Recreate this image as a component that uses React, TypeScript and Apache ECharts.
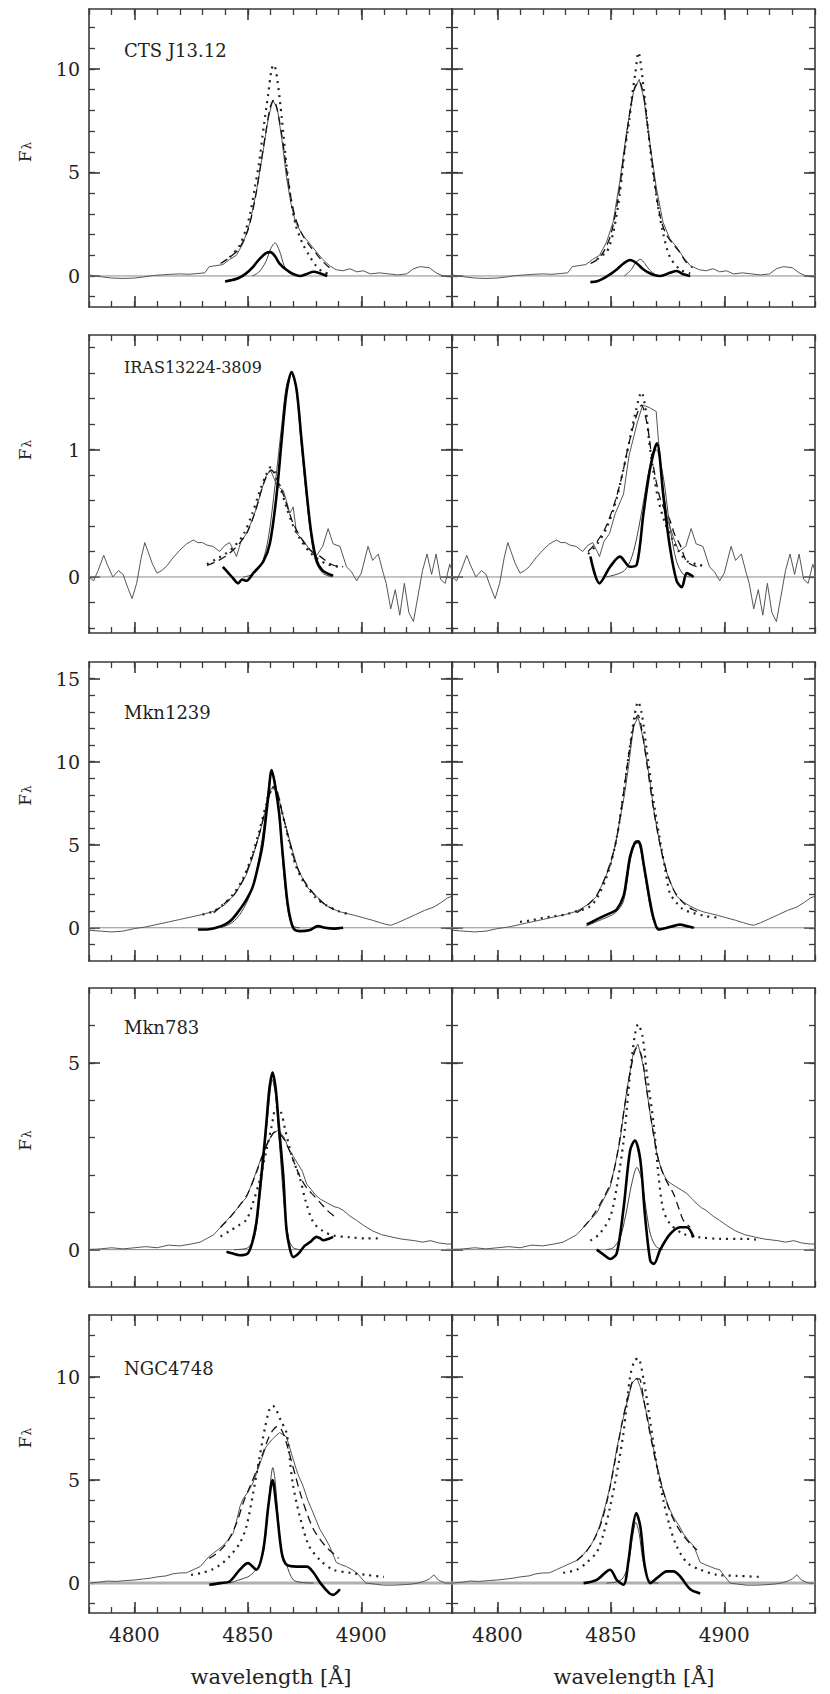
import React, { useEffect, useRef } from "react";
import * as echarts from "echarts";

// ---------------- axes / layout constants ----------------
const X_MIN = 4780;
const X_MAX = 4940;
const X_MAJOR = [4800, 4850, 4900];
const X_LABELS = [4800, 4850, 4900];

const Y_RANGES: number[][] = [[-1.5, 12.9], [-0.44, 1.9], [-2, 16], [-1, 7], [-1.45, 13]];
const Y_MAJOR: number[][] = [[0, 5, 10], [0, 1], [0, 5, 10, 15], [0, 5], [0, 5, 10]];
const Y_MINOR: number[][] = [
  [-1, 0, 1, 2, 3, 4, 5, 6, 7, 8, 9, 10, 11, 12],
  [-0.4, -0.2, 0, 0.2, 0.4, 0.6, 0.8, 1, 1.2, 1.4, 1.6, 1.8],
  [-1, 0, 1, 2, 3, 4, 5, 6, 7, 8, 9, 10, 11, 12, 13, 14, 15],
  [0, 1, 2, 3, 4, 5, 6],
  [-1, 0, 1, 2, 3, 4, 5, 6, 7, 8, 9, 10, 11, 12],
];
const OBJECTS = ["CTS J13.12", "IRAS13224-3809", "Mkn1239", "Mkn783", "NGC4748"];
const X_TITLE = "wavelength [Å]";
const Y_TITLE = "{f|F}{l|λ}";

// ---------------- data: row 1 (CTS J13.12) ----------------
const obs1WingL = [[4780,0.05],[4783,0.0],[4786,-0.05],[4790,-0.1],[4795,-0.12],[4800,-0.1],[4804,-0.05],[4808,0.02],[4812,0.05],[4816,0.08],[4820,0.1],[4824,0.08],[4828,0.12],[4831,0.15],[4833,0.45],[4836,0.5],[4839,0.55],[4842,0.8],[4845,1.0]];
const obs1CoreL = [[4848,1.6],[4851,2.6],[4854,4.2],[4857,6.2],[4859,7.6],[4861,8.5],[4863,8.1],[4865,6.6],[4867,4.8],[4869,3.5],[4871,2.6],[4874,2.0],[4877,1.6],[4880,1.2],[4883,0.8],[4886,0.5]];
const obs1CoreR = [[4848,1.6],[4851,2.6],[4854,4.6],[4857,7.0],[4860,8.9],[4862.5,9.5],[4864.5,8.6],[4867,6.6],[4870,4.3],[4873,2.6],[4876,1.8],[4879,1.4],[4882,0.9],[4885,0.5]];
const obs1WingR = [[4889,0.3],[4892,0.25],[4895,0.35],[4898,0.2],[4901,0.25],[4904,0.1],[4908,0.15],[4912,0.1],[4916,0.05],[4920,0.1],[4923,0.35],[4926,0.45],[4930,0.4],[4933,0.15],[4936,0.0],[4940,-0.05]];
const dash1L = [[4838,0.6],[4842,0.9],[4846,1.3],[4850,2.2],[4853,3.6],[4856,5.6],[4858,7.0],[4860,8.2],[4861.5,8.5],[4863,8.0],[4865,6.8],[4867,5.2],[4869,3.8],[4871,2.8],[4874,2.0],[4877,1.5],[4880,1.1],[4883,0.7],[4886,0.4]];
const dot1L = [[4842,0.9],[4846,1.4],[4849,2.2],[4851,3.0],[4853,4.2],[4855,5.5],[4857,7.2],[4859,8.8],[4860.5,10.0],[4861.5,10.2],[4863,9.5],[4865,7.6],[4867,5.4],[4869,3.7],[4871,2.5],[4874,1.6],[4877,1.0],[4880,0.5],[4883,0.2],[4886,0.1]];
const thick1L = [[4840,-0.27],[4843,-0.2],[4846,-0.1],[4849,0.1],[4852,0.4],[4855,0.8],[4858,1.1],[4860,1.15],[4862,0.95],[4864,0.6],[4867,0.3],[4870,0.1],[4873,0.0],[4876,0.1],[4879,0.2],[4882,0.12],[4885,0.0]];
const thin1L = [[4852,0.0],[4855,0.2],[4858,0.7],[4860,1.3],[4862,1.6],[4864,1.2],[4866,0.5],[4868,0.15],[4871,0.0]];
const dash1R = [[4841,0.6],[4844,0.8],[4847,1.2],[4850,2.0],[4853,3.6],[4856,6.0],[4858.5,8.0],[4860.5,9.1],[4862.5,9.4],[4864.5,8.7],[4866.5,7.0],[4869,4.8],[4871.5,3.0],[4874,2.1],[4877,1.6],[4880,1.2],[4883,0.7],[4886,0.4]];
const dot1R = [[4844,0.8],[4846,1.0],[4848,1.1],[4851,2.06],[4854,4.0],[4856,6.0],[4858,7.4],[4859.5,8.8],[4860.8,9.8],[4862.2,10.8],[4863.5,10.0],[4865,8.5],[4867.4,6.1],[4870.3,3.7],[4873,2.1],[4876,0.93],[4880.6,0.3],[4885,0.13]];
const thick1R = [[4841,-0.3],[4844,-0.25],[4847,-0.1],[4850,0.1],[4853,0.35],[4855.6,0.6],[4858.5,0.77],[4861.5,0.6],[4864,0.35],[4866,0.2],[4869,0.05],[4871.8,0.0],[4876,0.15],[4879,0.24],[4882,0.08],[4885,0.0]];
const thin1R = [[4856,0.0],[4859,0.3],[4861,0.65],[4863,0.8],[4865,0.6],[4867,0.3],[4870,0.05],[4873,0.0]];

// ---------------- data: row 2 (IRAS13224-3809) ----------------
const obs2WingL = [[4780,0.0],[4782,-0.03],[4784,0.05],[4786.5,0.17],[4788,0.1],[4790.5,0.0],[4793,0.05],[4795,0.02],[4797,-0.08],[4799,-0.17],[4801,-0.05],[4803,0.15],[4804.6,0.27],[4806,0.2],[4808,0.1],[4810,0.03],[4812,0.05],[4814,0.08],[4817,0.15],[4820,0.21],[4823,0.26],[4826,0.29],[4828,0.27],[4830,0.27],[4832,0.25],[4834.7,0.24],[4837.6,0.2],[4840,0.25],[4842,0.27],[4844,0.2],[4845,0.16],[4847,0.28]];
const obs2CoreL = [[4849.4,0.34],[4852,0.45],[4854,0.55],[4856,0.68],[4858,0.79],[4860,0.84],[4862.6,0.73],[4864,0.7],[4865.6,0.68],[4867,0.6],[4868.5,0.5],[4870,0.55],[4871.5,0.34],[4874.4,0.29],[4877.4,0.21],[4880,0.16]];
const obs2CoreR = [[4849.4,0.34],[4852,0.5],[4855.6,0.65],[4858,0.95],[4861.5,1.2],[4864,1.35],[4867,1.33],[4870,1.3],[4871,1.07],[4873,0.7],[4875,0.45],[4877.6,0.31],[4880,0.2]];
const obs2WingR = [[4883,0.24],[4885.4,0.38],[4887.6,0.26],[4890.6,0.24],[4893.5,0.08],[4895.7,0.04],[4898,-0.03],[4900,0.03],[4903,0.24],[4905,0.13],[4907.5,0.18],[4909.7,0.03],[4911,-0.05],[4913,-0.25],[4915,-0.1],[4917,-0.3],[4919,-0.05],[4921,-0.28],[4923,-0.35],[4925,-0.15],[4927,0.05],[4929,0.18],[4931,0.02],[4933,0.18],[4935,-0.02],[4937,-0.05],[4939,0.1],[4940,0.05]];
const dash2L = [[4832,0.09],[4836,0.12],[4840,0.16],[4844,0.22],[4847,0.28],[4850,0.36],[4853,0.5],[4856,0.68],[4858,0.78],[4860.4,0.84],[4862.5,0.78],[4865.6,0.65],[4868,0.52],[4870,0.42],[4873,0.32],[4876,0.24],[4879,0.19],[4882,0.16],[4885,0.12],[4888,0.09],[4892,0.08]];
const dot2L = [[4832,0.1],[4836,0.14],[4840,0.18],[4844,0.24],[4848,0.33],[4852,0.5],[4855,0.66],[4858,0.8],[4860,0.86],[4862,0.82],[4864,0.72],[4867,0.55],[4870,0.4],[4873,0.3],[4877,0.2],[4881,0.14],[4885,0.1],[4890,0.08]];
const thick2L = [[4839,0.08],[4841.5,0.03],[4843.5,-0.01],[4845.7,-0.05],[4847.5,-0.02],[4849.4,-0.03],[4852.4,0.03],[4856.8,0.12],[4859.7,0.26],[4862.6,0.63],[4864.9,1.07],[4867,1.44],[4869.3,1.61],[4871.5,1.47],[4873.7,1.07],[4876,0.65],[4878,0.34],[4880.3,0.13],[4883,0.05],[4887.6,0.01]];
const thin2L = [[4848,0.0],[4852,0.02],[4856,0.1],[4859,0.3],[4862,0.72],[4865,1.2],[4867,1.5],[4869.3,1.6],[4871.5,1.45],[4873.5,1.05],[4876,0.6],[4878,0.3],[4880,0.12],[4883,0.03],[4887,0.0]];
const dash2R = [[4840,0.2],[4844,0.28],[4848,0.4],[4852,0.6],[4855,0.8],[4858,1.05],[4861,1.25],[4863.5,1.35],[4866,1.2],[4868,0.95],[4870,0.75],[4872,0.6],[4874,0.52],[4876,0.45],[4878,0.34],[4880.6,0.25],[4883.5,0.12],[4888,0.08]];
const dot2R = [[4840,0.18],[4844,0.26],[4848,0.38],[4852,0.58],[4855,0.8],[4858,1.05],[4861,1.3],[4863.5,1.45],[4865.5,1.3],[4867,1.05],[4869,0.8],[4871,0.6],[4874,0.42],[4877,0.3],[4880,0.2],[4884,0.12],[4888,0.1],[4892,0.08]];
const thick2R = [[4841,0.16],[4845,-0.05],[4849.7,0.08],[4854,0.16],[4858.5,0.08],[4861.5,0.1],[4864.4,0.5],[4867.4,0.86],[4870.3,1.05],[4873.2,0.63],[4876,0.24],[4879,-0.03],[4881.3,-0.08],[4883.5,0.03],[4886.5,0.0]];
const thin2R = [[4848,0.0],[4856,0.05],[4860,0.2],[4864,0.55],[4867,0.85],[4870,1.0],[4873,0.8],[4876,0.4],[4879,0.12],[4882,0.02],[4885,0.0]];

// ---------------- data: row 3 (Mkn1239) ----------------
const obs3WingL = [[4780,-0.15],[4785,-0.2],[4790,-0.25],[4795,-0.2],[4800,-0.05],[4805,0.05],[4810,0.2],[4815,0.35],[4820,0.5],[4825,0.65],[4830,0.8],[4835,1.0],[4840,1.4]];
const obs3CoreL = [[4843.5,1.9],[4846,2.4],[4849.4,3.2],[4852,4.2],[4854,5.1],[4856,6.1],[4858,7.2],[4860.3,8.4],[4862.6,8.3],[4864,7.6],[4865.6,6.7],[4868,5.5],[4870,4.5],[4872,3.6],[4874.4,2.9],[4876.5,2.4],[4878.8,2.1],[4881.8,1.7]];
const obs3CoreR = [[4843.8,1.9],[4846.5,2.7],[4849.7,3.7],[4852,5.0],[4854,6.5],[4856,8.0],[4857.8,9.7],[4860,12.1],[4862,12.7],[4864.4,11.3],[4867.4,8.7],[4869,7.0],[4871,5.5],[4873,4.2],[4874.7,3.3],[4877,2.5],[4879,1.9],[4882,1.55]];
const obs3WingR = [[4885,1.3],[4888,1.1],[4891,0.95],[4894,0.85],[4897,0.75],[4901,0.6],[4905,0.45],[4908.5,0.3],[4911,0.2],[4913,0.15],[4916,0.3],[4920,0.55],[4924,0.8],[4928,1.05],[4932,1.25],[4935,1.5],[4938,1.8],[4940,1.9]];
const dash3L = [[4835,0.9],[4840,1.5],[4844,2.0],[4848,2.9],[4852,4.3],[4855,5.6],[4858,7.2],[4860.5,8.2],[4862.5,8.2],[4865,7.0],[4868,5.4],[4871,3.9],[4874,3.0],[4877,2.4],[4880,1.9],[4884,1.4],[4888,1.1]];
const dot3L = [[4830,0.8],[4835,1.0],[4840,1.5],[4844,2.1],[4848,3.0],[4852,4.4],[4855,5.8],[4858,7.4],[4860.5,8.5],[4862.5,8.3],[4865,7.0],[4868,5.3],[4871,3.8],[4874,2.9],[4877,2.3],[4880,1.8],[4884,1.4],[4890,1.0],[4895,0.8]];
const thick3L = [[4828,-0.1],[4832,-0.1],[4836,0.0],[4840,0.2],[4843,0.5],[4846.5,1.1],[4849,1.6],[4852,2.4],[4854,3.4],[4856.5,5.0],[4859,7.9],[4860.5,9.5],[4862,8.6],[4863.8,6.9],[4865,5.0],[4866,3.5],[4867.5,1.5],[4869,0.4],[4870.5,-0.1],[4873,-0.2],[4877,-0.15],[4881,0.1],[4884,0.0],[4888,-0.05],[4892,0.0]];
const thin3L = [[4838,0.0],[4843,0.3],[4847,0.9],[4851,2.0],[4854,3.5],[4857,6.0],[4859,8.3],[4860.5,9.4],[4862,8.8],[4864,6.5],[4866,3.0],[4868,0.8],[4870,0.1],[4873,0.0]];
const dash3R = [[4835,0.9],[4840,1.4],[4844,2.0],[4848,3.2],[4852,5.0],[4855,7.5],[4858,10.5],[4860.5,12.4],[4862,12.8],[4864,11.6],[4866.5,9.3],[4869,7.0],[4872,4.8],[4875,3.2],[4878,2.2],[4882,1.5],[4886,1.1],[4890,0.9]];
const dot3R = [[4810,0.35],[4815,0.45],[4820,0.6],[4825,0.7],[4830,0.8],[4835,1.0],[4838,1.1],[4841,1.3],[4844,1.8],[4848,3.0],[4852,5.0],[4855,7.5],[4858,10.5],[4860.5,12.8],[4862,13.6],[4863.5,13.0],[4866,10.5],[4869,7.5],[4872,5.0],[4874,3.5],[4876,2.1],[4879,1.5],[4882,1.1],[4886,0.9],[4892,0.7],[4898,0.6]];
const thick3R = [[4839.4,0.2],[4843,0.45],[4846.8,0.7],[4850,0.9],[4852.6,1.1],[4855.6,1.9],[4857,3.0],[4858.5,4.3],[4860.5,5.1],[4862,5.2],[4863.2,4.9],[4864.4,3.9],[4866,2.6],[4867.4,1.5],[4869,0.5],[4871,-0.1],[4874.7,0.0],[4877.5,0.1],[4880.6,0.2],[4883.5,0.1],[4886.5,0.0]];
const thin3R = [[4839,0.1],[4846,0.5],[4852,0.9],[4855.6,1.6],[4858.5,4.0],[4860.5,5.0],[4862,5.1],[4864,4.0],[4866,2.3],[4868,0.8],[4870,0.1],[4872,-0.05],[4876,0.0],[4880,0.15],[4884,0.05],[4887,0.0]];

// ---------------- data: row 4 (Mkn783) ----------------
const obs4WingL = [[4780,0.0],[4785,0.02],[4790,0.05],[4795,0.02],[4800,0.05],[4805,0.08],[4810,0.05],[4815,0.12],[4820,0.1],[4825,0.15],[4829,0.2],[4832,0.3],[4835,0.4],[4838,0.6],[4841,0.8],[4844,1.0]];
const obs4CoreL = [[4846,1.15],[4849.4,1.4],[4852,1.8],[4855,2.3],[4858,2.8],[4861,3.1],[4863.5,3.2],[4866,3.0],[4868,2.7],[4870,2.5],[4872,2.3],[4874,2.1],[4876,1.75],[4878,1.6],[4880,1.45],[4882,1.35],[4885,1.25],[4888,1.15]];
const obs4CoreR = [[4846,1.25],[4849.7,1.67],[4852,2.3],[4854,2.9],[4857,4.25],[4860,5.3],[4862,5.5],[4864.4,4.9],[4867.4,3.6],[4870.3,2.56],[4872.5,2.1],[4874.7,1.85],[4877,1.75],[4879,1.67],[4881,1.6],[4883.5,1.5],[4886,1.35],[4888,1.22]];
const obs4WingR = [[4890,1.12],[4892,1.05],[4895,0.9],[4898,0.78],[4901,0.65],[4905,0.5],[4909,0.4],[4914,0.33],[4918,0.28],[4923.5,0.24],[4927,0.2],[4930.6,0.24],[4934,0.18],[4938,0.15],[4940,0.15]];
const dash4L = [[4838,0.6],[4842,0.85],[4846,1.15],[4850,1.5],[4854,2.1],[4857,2.6],[4860,3.0],[4862,3.15],[4864,3.1],[4866,2.95],[4868,2.7],[4870,2.4],[4873,1.95],[4876,1.65],[4879,1.45],[4882,1.25],[4885,1.05],[4888,0.9]];
const dot4L = [[4838,0.35],[4842,0.5],[4846,0.65],[4849.4,0.8],[4852,1.2],[4855,1.8],[4858,2.6],[4860.5,3.3],[4862.5,3.8],[4864.5,3.7],[4866.5,3.2],[4868.5,2.7],[4870,2.4],[4873,1.9],[4875.5,1.3],[4878.8,0.74],[4883,0.5],[4887.6,0.38],[4895,0.33],[4902,0.3],[4908,0.3]];
const thick4L = [[4840.6,-0.06],[4843,-0.1],[4846.5,-0.15],[4850,-0.1],[4852,0.2],[4853.8,0.74],[4855.3,1.6],[4857,2.6],[4858.2,3.4],[4859.5,4.3],[4860.9,4.74],[4862.3,4.3],[4863.7,3.3],[4865.6,2.0],[4867,0.56],[4868.5,0.03],[4870,-0.2],[4871.5,-0.15],[4873,-0.06],[4875,0.1],[4877.4,0.2],[4880.3,0.34],[4882,0.3],[4883.2,0.25],[4886,0.3],[4887.6,0.34]];
const thin4L = [[4844,0.0],[4850,0.05],[4853,0.35],[4855,1.2],[4857,2.4],[4859,3.7],[4860.8,4.55],[4862.3,4.1],[4864,2.8],[4866,1.2],[4868,0.3],[4870,0.05],[4873,0.0]];
const dash4R = [[4838,0.6],[4842,0.9],[4846,1.3],[4850,1.8],[4853,2.6],[4856,3.8],[4859,4.9],[4861.5,5.4],[4863.5,5.2],[4866,4.2],[4868.5,3.2],[4871,2.4],[4874,1.9],[4877.6,1.5],[4880,1.1],[4882,0.78],[4885,0.6]];
const dot4R = [[4841,0.24],[4845,0.42],[4849.7,0.87],[4852.6,1.67],[4855.6,2.9],[4858.5,4.7],[4860.5,5.7],[4862,6.03],[4864,5.7],[4865.9,4.7],[4868.8,3.4],[4871,2.0],[4873,1.1],[4876,0.7],[4882,0.42],[4889.4,0.33],[4898,0.29],[4908.5,0.29],[4914,0.27]];
const thick4R = [[4843.8,0.0],[4846.5,-0.12],[4849.7,-0.25],[4852.6,-0.1],[4855.6,1.1],[4858.5,2.65],[4860.6,2.92],[4863,2.4],[4865,0.96],[4867.4,-0.3],[4869,-0.38],[4871.8,0.0],[4876.2,0.42],[4880.6,0.6],[4883.5,0.6],[4886.5,0.33]];
const thin4R = [[4848,0.0],[4851,0.05],[4854,0.3],[4856.5,0.9],[4859,1.7],[4861.5,2.2],[4863.5,1.9],[4865.5,1.1],[4867.5,0.4],[4870,0.08],[4873,0.0]];

// ---------------- data: row 5 (NGC4748) ----------------
const obs5WingL = [[4780,0.0],[4785,0.05],[4788,0.1],[4792,0.08],[4796,0.12],[4800,0.15],[4804,0.2],[4807,0.24],[4810,0.3],[4814,0.35],[4817,0.45],[4820,0.49],[4823,0.5],[4826,0.65],[4829,0.8]];
const obs5CoreL = [[4833,1.3],[4836,1.55],[4839,1.8],[4841,2.05],[4843.5,2.4],[4845,3.0],[4846.5,3.7],[4848,4.1],[4850,4.4],[4852,4.8],[4853.8,5.3],[4856,6.0],[4858,6.6],[4861,7.0],[4864,7.3],[4867,7.1],[4870,6.0],[4872,5.3],[4874.4,4.7],[4876.5,4.0],[4878.8,3.4],[4881.8,2.6],[4884,2.2],[4886,1.8],[4887.5,1.4],[4889,1.0],[4891,0.9],[4893.5,0.8],[4896,0.65],[4898,0.5],[4900,0.25],[4902,0.0]];
const obs5CoreR = [[4833,1.0],[4835,1.1],[4838,1.4],[4841,1.8],[4843,2.2],[4845,2.75],[4847.5,3.7],[4849.7,4.7],[4852.6,6.5],[4854.5,7.5],[4856.3,8.4],[4858,9.1],[4859.3,9.7],[4861.5,9.95],[4863,9.5],[4864.4,8.9],[4866,8.1],[4867.4,7.3],[4870.3,5.7],[4873.2,4.4],[4875.5,3.7],[4877.6,3.2],[4880,2.8],[4882,2.4],[4884,2.1],[4886.5,1.8],[4888,1.4],[4889.4,1.0],[4891.5,0.9],[4893.8,0.8],[4896,0.7],[4898,0.65],[4900,0.35],[4902.6,0.0]];
const obs5WingR = [[4906,-0.05],[4910,-0.1],[4914,-0.1],[4918,-0.08],[4922,-0.05],[4925,0.0],[4928,0.1],[4930,0.2],[4932,0.4],[4934,0.15],[4937,0.0],[4940,0.0]];
const dash5L = [[4833,1.2],[4837,1.5],[4841,2.0],[4845,2.9],[4848,3.9],[4851,4.7],[4854,5.5],[4857,6.4],[4859,7.0],[4861,7.4],[4863,7.6],[4865,7.4],[4867,6.8],[4869,6.0],[4871,5.2],[4873,4.4],[4876,3.4],[4879,2.6],[4882,2.1],[4885,1.7],[4888,1.4],[4890,1.2]];
const dot5L = [[4825,0.4],[4830,0.5],[4834,0.65],[4838,0.9],[4842,1.3],[4846.5,1.94],[4849.4,2.75],[4852.4,4.4],[4855,6.0],[4857.5,7.5],[4859.5,8.4],[4861,8.6],[4862.5,8.4],[4864.5,7.9],[4867,7.3],[4868.5,6.0],[4870,4.7],[4873,3.2],[4877,1.8],[4882,1.1],[4887.6,0.65],[4895,0.5],[4902,0.4],[4910,0.3]];
const thick5L = [[4833,-0.08],[4838,0.0],[4842,0.08],[4846.5,0.65],[4850,0.97],[4853.8,0.65],[4856.8,1.6],[4859,3.7],[4860.9,5.0],[4862.6,3.7],[4864.9,1.5],[4867,0.9],[4871.5,0.8],[4876,0.8],[4879,0.5],[4882,0.0],[4886,-0.5],[4887.6,-0.57],[4890.6,-0.3]];
const thin5L = [[4842,0.0],[4846,0.15],[4850,0.3],[4852.4,0.5],[4855,0.9],[4857,1.6],[4858.5,3.0],[4860,4.9],[4861,5.6],[4862,5.0],[4863.5,3.0],[4865,1.5],[4867,0.9],[4870,0.16],[4874,0.03],[4879,0.0]];
const dash5R = [[4835,1.1],[4839,1.5],[4843,2.2],[4846,3.0],[4849,4.3],[4852,6.0],[4855,7.8],[4858,9.2],[4860.5,9.9],[4862.5,9.9],[4864.5,8.9],[4867,7.4],[4870,5.8],[4873,4.5],[4876,3.5],[4879,2.8],[4882,2.3],[4885,1.9],[4888,1.6]];
const dot5R = [[4829,0.5],[4835,0.65],[4839.4,1.0],[4843.8,1.5],[4846.8,2.4],[4849.7,3.7],[4852.6,5.3],[4855.6,7.3],[4858.5,10.0],[4860.5,10.8],[4862,10.9],[4864.4,9.9],[4867.4,7.8],[4870.3,5.7],[4873.2,4.0],[4876,2.75],[4879,1.8],[4883.5,1.0],[4889.4,0.65],[4896.8,0.4],[4905.6,0.35],[4916,0.3]];
const thick5R = [[4838,0.0],[4843.8,0.16],[4849.7,0.65],[4852.6,0.16],[4855.6,-0.08],[4857.8,1.1],[4859.3,2.4],[4861.2,3.4],[4863,2.75],[4865,0.8],[4867.4,0.0],[4870.3,0.24],[4874.7,0.57],[4877.6,0.57],[4880.6,0.32],[4885,-0.3],[4889.4,-0.5]];
const thin5R = [[4848,0.0],[4852,0.05],[4855,0.2],[4857.5,0.8],[4859.5,2.2],[4861,2.95],[4862.5,2.4],[4864,1.2],[4866,0.3],[4868,0.05],[4871,0.0]];

// ---------------- layout (px) ----------------
const COL_LEFT = [89, 452];
const PANEL_W = 363;
const ROW_TOP = [9, 335, 662, 988, 1315];
const ROW_H = [298, 298, 299, 299, 298];
const LABEL_Y = [50, 367, 712, 1027, 1368];
// shift of the F_lambda title from the panel centre (px, positive = upwards)
const FLAMBDA_SHIFT = [6, 34, 16, -3, 26];

const AX = "#3a3a3a";
const SERIF = "'DejaVu Serif', 'Liberation Serif', serif";

type Pts = number[][];
interface Panel { obs: Pts; dash: Pts; dot: Pts; thick: Pts; thin: Pts }

const PANELS: Panel[] = [
  { obs: [...obs1WingL, ...obs1CoreL, ...obs1WingR], dash: dash1L, dot: dot1L, thick: thick1L, thin: thin1L },
  { obs: [...obs1WingL, ...obs1CoreR, ...obs1WingR], dash: dash1R, dot: dot1R, thick: thick1R, thin: thin1R },
  { obs: [...obs2WingL, ...obs2CoreL, ...obs2WingR], dash: dash2L, dot: dot2L, thick: thick2L, thin: thin2L },
  { obs: [...obs2WingL, ...obs2CoreR, ...obs2WingR], dash: dash2R, dot: dot2R, thick: thick2R, thin: thin2R },
  { obs: [...obs3WingL, ...obs3CoreL, ...obs3WingR], dash: dash3L, dot: dot3L, thick: thick3L, thin: thin3L },
  { obs: [...obs3WingL, ...obs3CoreR, ...obs3WingR], dash: dash3R, dot: dot3R, thick: thick3R, thin: thin3R },
  { obs: [...obs4WingL, ...obs4CoreL, ...obs4WingR], dash: dash4L, dot: dot4L, thick: thick4L, thin: thin4L },
  { obs: [...obs4WingL, ...obs4CoreR, ...obs4WingR], dash: dash4R, dot: dot4R, thick: thick4R, thin: thin4R },
  { obs: [...obs5WingL, ...obs5CoreL, ...obs5WingR], dash: dash5L, dot: dot5L, thick: thick5L, thin: thin5L },
  { obs: [...obs5WingL, ...obs5CoreR, ...obs5WingR], dash: dash5R, dot: dot5R, thick: thick5R, thin: thin5R },
];

const plain = (v: number) => String(v);

function buildOption() {
  const grid: any[] = [];
  const xAxis: any[] = [];
  const yAxis: any[] = [];
  const series: any[] = [];
  const graphic: any[] = [];

  PANELS.forEach((p, g) => {
    const r = Math.floor(g / 2);
    const c = g % 2;
    grid.push({ left: COL_LEFT[c], top: ROW_TOP[r], width: PANEL_W, height: ROW_H[r], containLabel: false });
    const [ymin, ymax] = Y_RANGES[r];

    (["bottom", "top"] as const).forEach((pos) => {
      xAxis.push({
        type: "value", gridIndex: g, position: pos, min: X_MIN, max: X_MAX, interval: 10,
        axisLine: { show: true, onZero: false, lineStyle: { color: AX, width: 1.6 } },
        axisTick: { show: true, inside: true, length: 6, lineStyle: { color: AX, width: 1.3 } },
        axisLabel: { show: false }, splitLine: { show: false },
      });
      xAxis.push({
        type: "value", gridIndex: g, position: pos, min: X_MIN, max: X_MAX,
        axisLine: { show: false, onZero: false },
        axisTick: { show: true, inside: true, length: 11, customValues: X_MAJOR, lineStyle: { color: AX, width: 1.6 } },
        axisLabel: {
          show: pos === "bottom" && r === 4, customValues: X_LABELS, margin: 12, formatter: plain,
          fontFamily: SERIF, fontSize: 20, color: "#222",
        },
        splitLine: { show: false },
      });
    });
    (["left", "right"] as const).forEach((pos) => {
      yAxis.push({
        type: "value", gridIndex: g, position: pos, min: ymin, max: ymax,
        axisLine: { show: true, onZero: false, lineStyle: { color: AX, width: 1.6 } },
        axisTick: { show: true, inside: true, length: 6, customValues: Y_MINOR[r], lineStyle: { color: AX, width: 1.3 } },
        axisLabel: { show: false }, splitLine: { show: false },
      });
      const withTitle = pos === "left" && c === 0;
      const sh = FLAMBDA_SHIFT[r];
      yAxis.push({
        type: "value", gridIndex: g, position: pos, min: ymin, max: ymax,
        name: withTitle ? Y_TITLE : "",
        nameLocation: "middle", nameRotate: 90, nameGap: 56,
        nameTextStyle: {
          fontFamily: SERIF, fontSize: 17, color: "#222",
          padding: sh >= 0 ? [0, 0, 0, 2 * sh] : [0, -2 * sh, 0, 0],
          rich: {
            f: { fontFamily: SERIF, fontSize: 17, color: "#222", lineHeight: 18, verticalAlign: "bottom" },
            l: { fontFamily: SERIF, fontSize: 12, color: "#222", lineHeight: 18, verticalAlign: "bottom", padding: [0, 0, 0, 1] },
          },
        },
        axisLine: { show: false, onZero: false },
        axisTick: { show: true, inside: true, length: 11, customValues: Y_MAJOR[r], lineStyle: { color: AX, width: 1.6 } },
        axisLabel: {
          show: withTitle, customValues: Y_MAJOR[r], margin: 9, formatter: plain,
          fontFamily: SERIF, fontSize: 19, color: "#222",
        },
        splitLine: { show: false },
      });
    });

    const xi = 4 * g;
    const yi = 4 * g;
    const base = { type: "line", xAxisIndex: xi, yAxisIndex: yi, symbol: "none", showSymbol: false, silent: true, animation: false, clip: true };
    series.push({
      ...base, data: [[X_MIN, 0], [X_MAX, 0]], z: 1,
      lineStyle: r === 4 ? { color: "#b0b0b0", width: 3 } : { color: "#8a8a8a", width: 1 },
    });
    series.push({ ...base, data: p.obs, z: 2, lineStyle: { color: "#555", width: 1 } });
    series.push({ ...base, data: p.dot, z: 3, smooth: 0.3, lineStyle: { color: "#222", width: 2.2, type: [2, 5] } });
    series.push({ ...base, data: p.dash, z: 4, smooth: 0.3, lineStyle: { color: "#111", width: 1.3, type: [8, 5] } });
    series.push({ ...base, data: p.thin, z: 5, smooth: 0.3, lineStyle: { color: "#444", width: 1 } });
    series.push({ ...base, data: p.thick, z: 6, smooth: 0.3, lineStyle: { color: "#000", width: 2.6 } });
  });

  OBJECTS.forEach((name, r) => {
    graphic.push({
      type: "text", x: 124, y: LABEL_Y[r],
      style: { text: name, fontFamily: SERIF, fontSize: r === 1 ? 16 : 18, fill: "#222", align: "left", verticalAlign: "middle" },
    });
  });
  [271, 634].forEach((cx) => {
    graphic.push({
      type: "text", x: cx, y: 1677,
      style: { text: X_TITLE, fontFamily: SERIF, fontSize: 21, fill: "#222", align: "center", verticalAlign: "middle" },
    });
  });

  return { animation: false, backgroundColor: "#fff", grid, xAxis, yAxis, series, graphic };
}

export default function App() {
  const ref = useRef<HTMLDivElement>(null);
  useEffect(() => {
    if (!ref.current) return;
    const chart = echarts.init(ref.current, null, { renderer: "svg" });
    chart.setOption(buildOption() as any);
    return () => chart.dispose();
  }, []);
  return (
    <div
      ref={ref}
      style={{ position: "absolute", left: 0, top: 0, width: 830, height: 1694, background: "#fff" }}
    />
  );
}
